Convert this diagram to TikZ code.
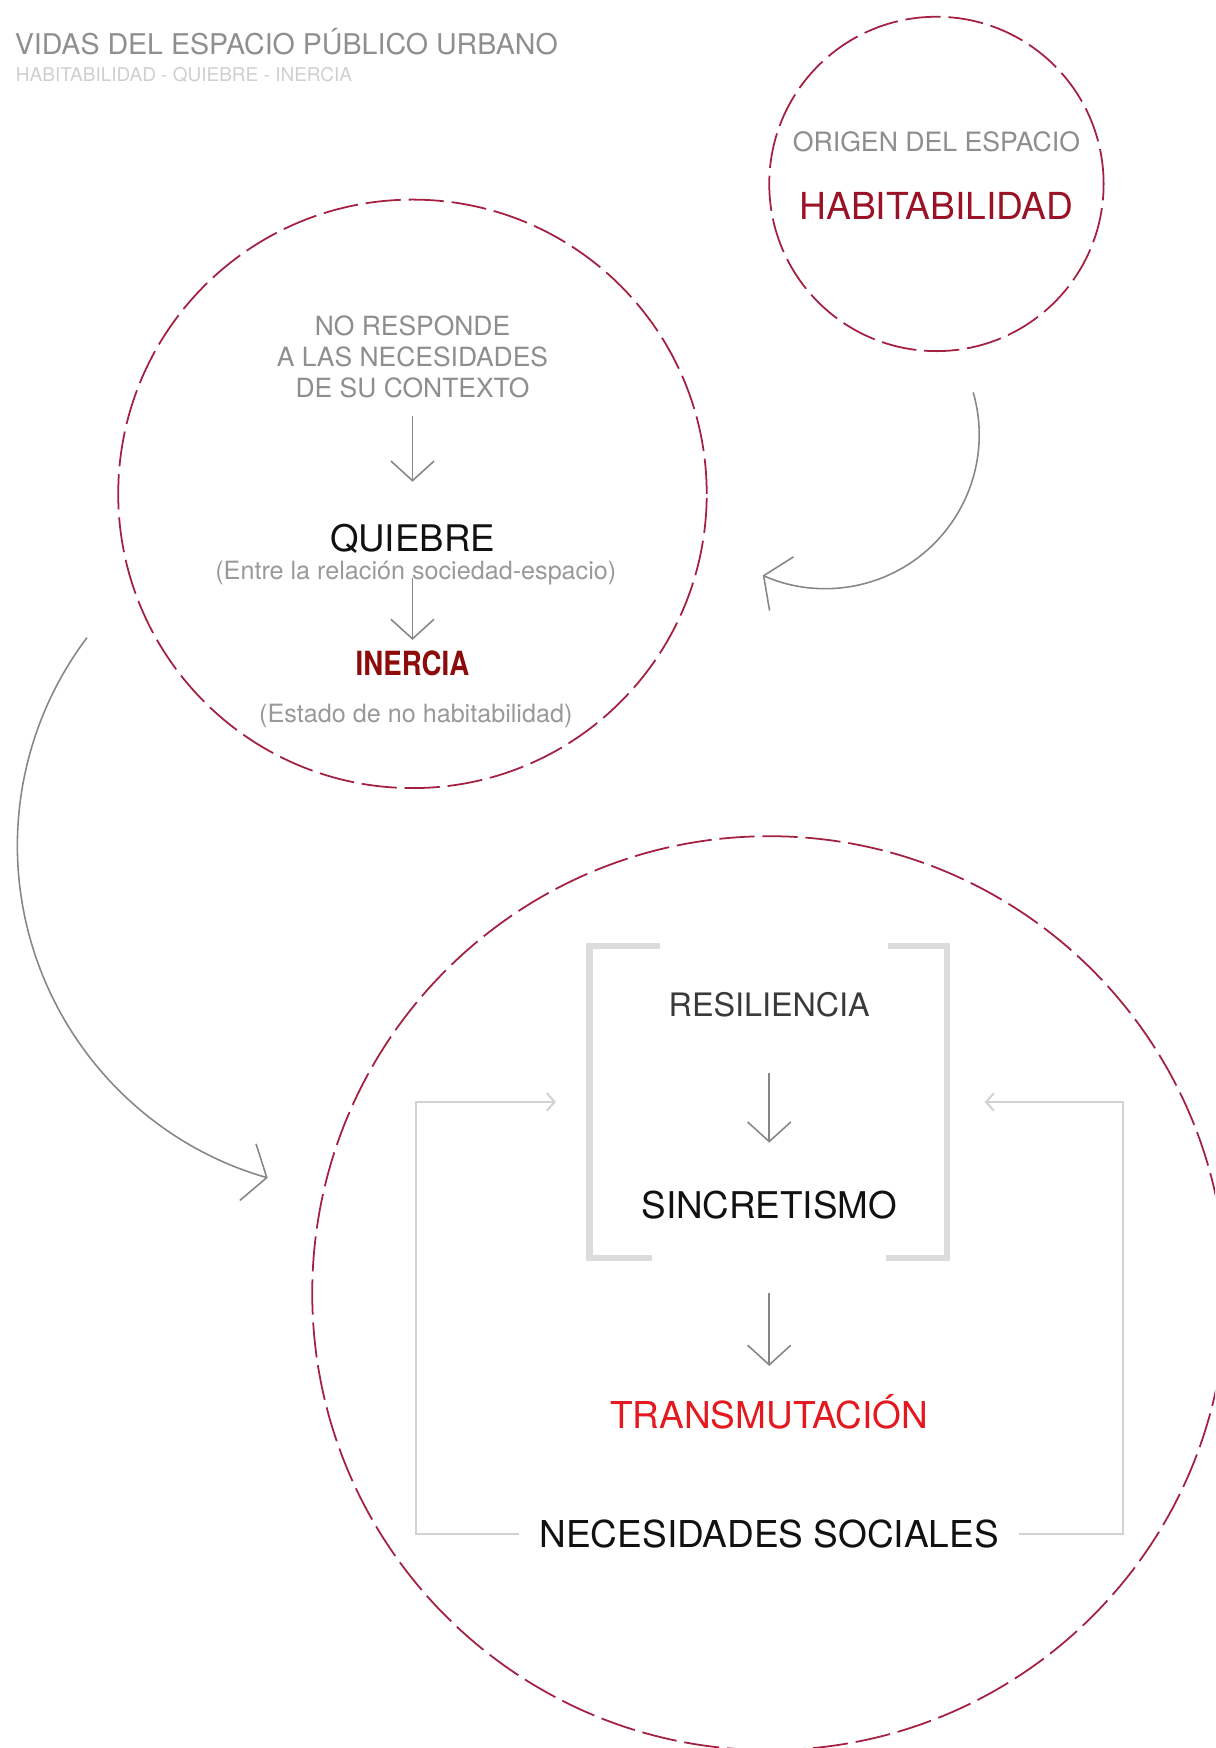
\documentclass[tikz,border=0pt]{standalone}
\usepackage{fontspec}
\setmainfont{TeX Gyre Heros}
\usepackage{graphicx}
\usetikzlibrary{arrows.meta,calc}
\definecolor{ringred}{HTML}{A32041}
\definecolor{titgray}{HTML}{8F8F8F}
\definecolor{subgray}{HTML}{CFCFCF}
\definecolor{midgray}{HTML}{8E8E8E}
\definecolor{softgray}{HTML}{999999}
\definecolor{resgray}{HTML}{3A3A3A}
\definecolor{nearblack}{HTML}{111111}
\definecolor{habred}{HTML}{9A1226}
\definecolor{inred}{HTML}{8E0B0B}
\definecolor{brightred}{HTML}{E3191F}
\definecolor{arrgray}{HTML}{868686}
\definecolor{brkgray}{HTML}{DCDCDC}
\definecolor{fbgray}{HTML}{D2D2D2}

\begin{document}
\begin{tikzpicture}[x=0.02cm,y=-0.02cm,
      ring/.style={circle,draw=ringred,line width=0.9pt,dash pattern=on 18pt off 4pt,inner sep=0pt},
      txt/.style={inner sep=0pt,anchor=base},
      flow/.style={draw=arrgray,line width=0.8pt,-{Straight Barb[length=10pt,width=22pt]}},
      curv/.style={draw=arrgray,line width=0.8pt,-{Straight Barb[length=10pt,width=30pt]}},
      feed/.style={draw=fbgray,line width=1pt,-{Straight Barb[length=4pt,width=9pt]}},
      brk/.style={draw=brkgray,line width=3.4pt}]
      \useasboundingbox (0,0) rectangle (1090,1568);
      \clip (0,0) rectangle (1090,1568);

      \node[txt,anchor=base west,text=titgray,font=\fontsize{14.6}{17}\selectfont] (tit) at (13,49) {VIDAS DEL ESPACIO PÚBLICO URBANO};
      \node[txt,anchor=base west,text=subgray,font=\fontsize{9.7}{12}\selectfont] (sub) at (14,73) {HABITABILIDAD - QUIEBRE - INERCIA};

      \node[ring,minimum size=6cm] (orig) at (840,165) {};
      \node[txt,text=midgray,font=\fontsize{13.6}{16}\selectfont] (origt) at (840,136) {ORIGEN DEL ESPACIO};
      \node[txt,text=habred,font=\fontsize{19}{22}\selectfont] (habit) at (840,197) {HABITABILIDAD};

      \node[ring,minimum size=10.56cm] (quie) at (370,443) {};
      \node[inner sep=0pt,anchor=north,align=center,text=midgray,font=\fontsize{13.5}{15.9}\selectfont] (resp) at (370,283) {NO RESPONDE\\A LAS NECESIDADES\\DE SU CONTEXTO};
      \node[txt,text=nearblack,font=\fontsize{18.7}{22}\selectfont] (quiebre) at (370,495) {QUIEBRE};
      \node[txt,text=softgray,font=\fontsize{12.85}{15}\selectfont] (entre) at (373,520) {(Entre la relación sociedad-espacio)};
      \node[txt,text=inred,font=\bfseries\fontsize{17}{20}\selectfont] (inercia) at (370,606) {\scalebox{0.83}[1]{INERCIA}};
      \node[txt,text=softgray,font=\fontsize{12.85}{15}\selectfont] (estado) at (373,648) {(Estado de no habitabilidad)};

      \node[ring,minimum size=16.4cm] (transf) at (690,1160) {};
      \node[inner sep=0pt,minimum width=6.4cm,minimum height=5.58cm] (marco) at (689,988.5) {};
      \node[txt,text=resgray,font=\fontsize{16.5}{20}\selectfont] (resil) at (690,912) {RESILIENCIA};
      \node[txt,text=nearblack,font=\fontsize{18.8}{22}\selectfont] (sincr) at (690,1093) {SINCRETISMO};
      \node[txt,text=brightred,font=\fontsize{18.9}{22}\selectfont] (transm) at (690,1281) {TRANSMUTACIÓN};
      \node[txt,text=nearblack,font=\fontsize{18.9}{22}\selectfont] (necs) at (690,1388) {NECESIDADES SOCIALES};

      \coordinate (o1) at (873,352);
      \coordinate (o2) at (78,572);
      \coordinate (lfb) at (373,1200);
      \coordinate (rfb) at (1007,1200);

      \draw[brk] ($(marco.north west)+(63,0)$) -- (marco.north west) -- (marco.south west) -- ($(marco.south west)+(56,0)$);
      \draw[brk] ($(marco.north east)+(-53,0)$) -- (marco.north east) -- (marco.south east) -- ($(marco.south east)+(-55,0)$);

      \draw[flow,shorten <=3mm,shorten >=7.6mm] (resp.south) -- (quiebre.north);
      \draw[flow,shorten <=4.2mm,shorten >=1.9mm] (quiebre.south) -- (inercia.north);
      \draw[flow,shorten <=10mm,shorten >=8.6mm] (resil.south) -- (sincr.north);
      \draw[flow,shorten <=13.2mm,shorten >=5mm] (sincr.south) -- (transm.north);

      \draw[feed,shorten <=3.6mm,shorten >=6mm] (necs.west) -| (lfb) |- (marco.west);
      \draw[feed,shorten <=3.6mm,shorten >=6.8mm] (necs.east) -| (rfb) |- (marco.east);

      \draw[curv] (o1) arc[start angle=-16,end angle=114,radius=138];
      \draw[curv] (o2) arc[start angle=217,end angle=106,radius=310];
   \end{tikzpicture}
\end{document}
